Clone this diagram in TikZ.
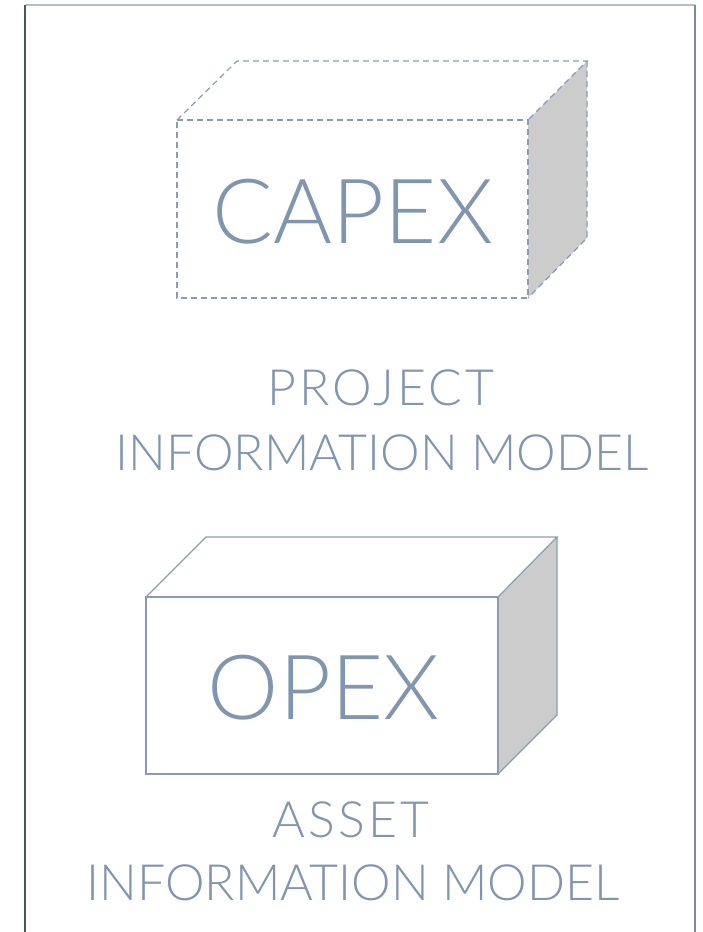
\documentclass[tikz,border=0pt]{standalone}
\usepackage{fontspec}
\setmainfont{Lato}[UprightFont=* Light]
\newfontfamily\widelato{Lato}[UprightFont=* Light, LetterSpace=6]
\definecolor{txt}{HTML}{7F95B0}
\definecolor{edge}{HTML}{8A9BB6}
\definecolor{side}{HTML}{CCCCCC}
\definecolor{frameL}{HTML}{4A5566}
\definecolor{frameT}{HTML}{B5BECB}
\definecolor{frameR}{HTML}{7A8AA2}
\tikzset{
  boxline/.style={draw=edge, line width=1.2pt},
  dashline/.style={draw=edge, line width=1.2pt, dash pattern=on 6pt off 4pt},
  sideface/.style={fill=side},
  bigtxt/.style={text=txt, font=\fontsize{90}{90}\selectfont, anchor=base, inner sep=0pt},
  lbltxt/.style={text=txt, font=\fontsize{50}{50}\selectfont, anchor=base, inner sep=0pt},
}
\begin{document}
\begin{tikzpicture}[x=1pt,y=-1pt]
\useasboundingbox (0,0) rectangle (702,932);
% frame
\draw[frameT, line width=1.2pt] (25,5) -- (695,5);
\draw[frameL, line width=1.3pt] (25,5) -- (25,932);
\draw[frameR, line width=1.2pt] (695,5) -- (695,932);
% CAPEX box
\coordinate (c1) at (177,120);
\coordinate (c2) at (528,120);
\coordinate (c3) at (528,298);
\coordinate (c4) at (177,298);
\coordinate (c5) at (237,61);
\coordinate (c6) at (587,61);
\coordinate (c7) at (587,238);
\fill[sideface] (c2) -- (c6) -- (c7) -- (c3) -- cycle;
\draw[dashline] (c1) -- (c2) -- (c3) -- (c4) -- cycle;
\draw[dashline] (c1) -- (c5) -- (c6) -- (c2);
\draw[dashline] (c6) -- (c7) -- (c3);
\node[bigtxt] (capex) at (353,243) {CAPEX};
% labels
\node[lbltxt] (proj) at (381,405) {\widelato PROJECT};
\node[lbltxt] (pim) at (382,470) {INFORMATION MODEL};
% OPEX box
\coordinate (o1) at (146,597);
\coordinate (o2) at (498,597);
\coordinate (o3) at (498,774);
\coordinate (o4) at (146,774);
\coordinate (o5) at (206,537);
\coordinate (o6) at (557,537);
\coordinate (o7) at (557,715);
\fill[sideface] (o2) -- (o6) -- (o7) -- (o3) -- cycle;
\draw[boxline] (o1) -- (o2) -- (o3) -- (o4) -- cycle;
\draw[boxline] (o1) -- (o5) -- (o6) -- (o2);
\draw[boxline] (o6) -- (o7) -- (o3);
\node[bigtxt] (opex) at (323.5,719) {OPEX};
\node[lbltxt] (asset) at (351,837) {\widelato ASSET};
\node[lbltxt] (aim) at (353,900) {INFORMATION MODEL};
\end{tikzpicture}
\end{document}
